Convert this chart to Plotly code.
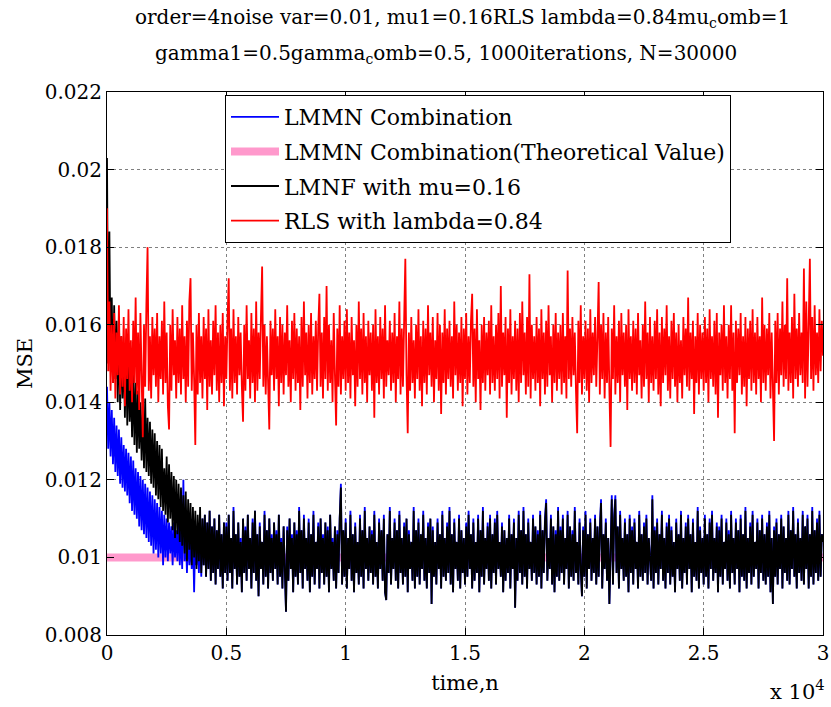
import numpy as np
import plotly.graph_objects as go

# time index (sampled every 50 iterations)
time_n = np.arange(0, 30001, 50)

rls = [
    0.0190, 0.0148, 0.0166, 0.0143, 0.0160, 0.0145, 0.0163, 0.0141, 0.0158, 0.0147, 0.0165, 0.0142, 0.0157, 0.0144, 0.0162, 0.0139, 0.0159, 0.0146, 0.0164, 0.0143,
    0.0156, 0.0140, 0.0161, 0.0145, 0.0167, 0.0142, 0.0158, 0.0138, 0.0163, 0.0146, 0.0131, 0.0160, 0.0144, 0.0165, 0.0180, 0.0143, 0.0157, 0.0141, 0.0162, 0.0147,
    0.0159, 0.0144, 0.0163, 0.0140, 0.0157, 0.0146, 0.0161, 0.0142, 0.0166, 0.0145, 0.0158, 0.0139, 0.0133, 0.0160, 0.0143, 0.0164, 0.0147, 0.0156, 0.0141, 0.0162,
    0.0145, 0.0159, 0.0142, 0.0165, 0.0146, 0.0157, 0.0140, 0.0161, 0.0144, 0.0166, 0.0172, 0.0143, 0.0158, 0.0146, 0.0129, 0.0160, 0.0142, 0.0163, 0.0145, 0.0157,
    0.0141, 0.0162, 0.0146, 0.0159, 0.0138, 0.0164, 0.0144, 0.0156, 0.0142, 0.0161, 0.0147, 0.0165, 0.0143, 0.0158, 0.0140, 0.0160, 0.0145, 0.0163, 0.0139, 0.0157,
    0.0146, 0.0161, 0.0172, 0.0143, 0.0159, 0.0141, 0.0164, 0.0145, 0.0157, 0.0142, 0.0162, 0.0147, 0.0158, 0.0144, 0.0135, 0.0160, 0.0143, 0.0165, 0.0146, 0.0156,
    0.0141, 0.0163, 0.0145, 0.0159, 0.0140, 0.0166, 0.0143, 0.0158, 0.0146, 0.0162, 0.0175, 0.0144, 0.0160, 0.0142, 0.0157, 0.0145, 0.0133, 0.0161, 0.0147, 0.0159,
    0.0143, 0.0164, 0.0146, 0.0157, 0.0139, 0.0162, 0.0145, 0.0160, 0.0142, 0.0158, 0.0147, 0.0165, 0.0144, 0.0156, 0.0140, 0.0161, 0.0146, 0.0163, 0.0143, 0.0159,
    0.0145, 0.0157, 0.0138, 0.0162, 0.0144, 0.0166, 0.0147, 0.0158, 0.0141, 0.0160, 0.0145, 0.0163, 0.0142, 0.0157, 0.0146, 0.0161, 0.0143, 0.0159, 0.0168, 0.0144,
    0.0158, 0.0141, 0.0162, 0.0146, 0.0170, 0.0143, 0.0160, 0.0145, 0.0156, 0.0140, 0.0163, 0.0147, 0.0134, 0.0159, 0.0144, 0.0165, 0.0142, 0.0157, 0.0146, 0.0161,
    0.0143, 0.0164, 0.0145, 0.0158, 0.0141, 0.0162, 0.0147, 0.0156, 0.0139, 0.0160, 0.0144, 0.0166, 0.0146, 0.0159, 0.0142, 0.0163, 0.0145, 0.0157, 0.0140, 0.0161,
    0.0147, 0.0158, 0.0143, 0.0160, 0.0136, 0.0164, 0.0145, 0.0157, 0.0142, 0.0162, 0.0146, 0.0159, 0.0141, 0.0165, 0.0144, 0.0156, 0.0147, 0.0161, 0.0143, 0.0158,
    0.0145, 0.0163, 0.0140, 0.0157, 0.0146, 0.0166, 0.0142, 0.0159, 0.0144, 0.0161, 0.0177, 0.0147, 0.0132, 0.0158, 0.0143, 0.0162, 0.0145, 0.0156, 0.0141, 0.0160,
    0.0146, 0.0164, 0.0143, 0.0157, 0.0139, 0.0161, 0.0145, 0.0159, 0.0142, 0.0165, 0.0147, 0.0158, 0.0144, 0.0162, 0.0140, 0.0156, 0.0146, 0.0163, 0.0143, 0.0160,
    0.0137, 0.0158, 0.0145, 0.0164, 0.0142, 0.0159, 0.0146, 0.0161, 0.0144, 0.0157, 0.0141, 0.0166, 0.0147, 0.0160, 0.0143, 0.0158, 0.0145, 0.0162, 0.0139, 0.0159,
    0.0146, 0.0163, 0.0142, 0.0157, 0.0145, 0.0161, 0.0168, 0.0144, 0.0159, 0.0140, 0.0164, 0.0146, 0.0156, 0.0138, 0.0160, 0.0145, 0.0162, 0.0143, 0.0158, 0.0147,
    0.0161, 0.0142, 0.0165, 0.0145, 0.0157, 0.0143, 0.0160, 0.0146, 0.0163, 0.0141, 0.0170, 0.0144, 0.0158, 0.0147, 0.0162, 0.0136, 0.0159, 0.0145, 0.0164, 0.0142,
    0.0157, 0.0146, 0.0161, 0.0143, 0.0159, 0.0140, 0.0163, 0.0145, 0.0166, 0.0147, 0.0158, 0.0142, 0.0162, 0.0144, 0.0173, 0.0141, 0.0160, 0.0146, 0.0157, 0.0143,
    0.0162, 0.0145, 0.0159, 0.0139, 0.0164, 0.0146, 0.0158, 0.0142, 0.0161, 0.0144, 0.0165, 0.0147, 0.0157, 0.0140, 0.0160, 0.0145, 0.0163, 0.0143, 0.0158, 0.0146,
    0.0160, 0.0142, 0.0163, 0.0145, 0.0157, 0.0141, 0.0174, 0.0146, 0.0159, 0.0144, 0.0162, 0.0147, 0.0158, 0.0143, 0.0132, 0.0161, 0.0145, 0.0165, 0.0142, 0.0157,
    0.0146, 0.0161, 0.0143, 0.0159, 0.0140, 0.0164, 0.0145, 0.0158, 0.0147, 0.0162, 0.0144, 0.0157, 0.0171, 0.0142, 0.0160, 0.0146, 0.0163, 0.0141, 0.0158, 0.0145,
    0.0162, 0.0143, 0.01285, 0.0159, 0.0146, 0.0165, 0.0142, 0.0157, 0.0145, 0.0161, 0.0140, 0.0163, 0.0147, 0.0158, 0.0144, 0.0160, 0.0138, 0.0164, 0.0146, 0.0157,
    0.0143, 0.0161, 0.0145, 0.0159, 0.0142, 0.0163, 0.0147, 0.0156, 0.0141, 0.0160, 0.0144, 0.0166, 0.0146, 0.0158, 0.0140, 0.0162, 0.0145, 0.0157, 0.0143, 0.0161,
    0.0146, 0.0164, 0.0142, 0.0158, 0.0139, 0.0162, 0.0145, 0.0159, 0.0147, 0.0165, 0.0143, 0.0157, 0.0141, 0.0161, 0.0146, 0.0163, 0.0144, 0.0158, 0.0140, 0.0160,
    0.0145, 0.0156, 0.0141, 0.0162, 0.0147, 0.0159, 0.0144, 0.0167, 0.0143, 0.0158, 0.0146, 0.0161, 0.0137, 0.0157, 0.0145, 0.0163, 0.0142, 0.0160, 0.0146, 0.0158,
    0.0143, 0.0162, 0.0145, 0.0159, 0.0140, 0.0164, 0.0146, 0.0157, 0.0144, 0.0161, 0.0142, 0.0163, 0.0136, 0.0158, 0.0147, 0.0160, 0.0143, 0.0165, 0.0145, 0.0157,
    0.0141, 0.0160, 0.0146, 0.0165, 0.0143, 0.0158, 0.0132, 0.0161, 0.0145, 0.0159, 0.0147, 0.0163, 0.0142, 0.0157, 0.0144, 0.0162, 0.0139, 0.0159, 0.0146, 0.0161,
    0.0143, 0.0164, 0.0145, 0.0158, 0.0142, 0.0162, 0.0146, 0.0157, 0.0140, 0.0167, 0.0145, 0.0160, 0.0143, 0.0159, 0.0147, 0.0163, 0.0141, 0.0158, 0.0144, 0.0130,
    0.0161, 0.0145, 0.0163, 0.0142, 0.0159, 0.0147, 0.0166, 0.0144, 0.0160, 0.0146, 0.0172, 0.0143, 0.0158, 0.0145, 0.0162, 0.0141, 0.0168, 0.0146, 0.0159, 0.0144,
    0.0163, 0.0147, 0.0158, 0.0145, 0.01745, 0.0141, 0.0166, 0.0144, 0.0160, 0.0177, 0.0146, 0.0162, 0.0143, 0.0165, 0.0147, 0.0158, 0.0145, 0.0164, 0.0148, 0.0161,
    0.0152,
]

lmnf = [
    0.0203, 0.0150, 0.0184, 0.0148, 0.0167, 0.0145, 0.0165, 0.0146, 0.0161, 0.0140, 0.0162, 0.0138, 0.0157, 0.0141, 0.0155, 0.0136, 0.0154, 0.0134, 0.0152, 0.0135,
    0.0146, 0.0131, 0.0148, 0.0129, 0.0145, 0.0127, 0.0143, 0.0128, 0.0140, 0.0125, 0.0139, 0.0123, 0.0141, 0.0122, 0.0136, 0.0121, 0.0135, 0.0119, 0.0133, 0.0118,
    0.0132, 0.0116, 0.0130, 0.0115, 0.0129, 0.0113, 0.0128, 0.0112, 0.0123, 0.0111, 0.0126, 0.0109, 0.0124, 0.0110, 0.0122, 0.0107, 0.0121, 0.0105, 0.0120, 0.0106,
    0.0119, 0.0104, 0.0118, 0.0103, 0.0116, 0.0101, 0.0117, 0.0099, 0.0115, 0.0102, 0.0114, 0.0098, 0.0113, 0.0100, 0.0112, 0.0097, 0.0111, 0.0099, 0.0113, 0.0096,
    0.0110, 0.0098, 0.0111, 0.0095, 0.0109, 0.0097, 0.0112, 0.0094, 0.0108, 0.0096, 0.0110, 0.0093, 0.0107, 0.0097, 0.0111, 0.0095, 0.0106, 0.0092, 0.0109, 0.0096,
    0.0108, 0.0094, 0.0111, 0.0096, 0.0105, 0.0092, 0.0112, 0.0097, 0.0106, 0.0093, 0.0109, 0.0095, 0.0104, 0.0091, 0.0110, 0.0096, 0.0107, 0.0094, 0.0111, 0.0097,
    0.0105, 0.0092, 0.0109, 0.0096, 0.0112, 0.0094, 0.0106, 0.0090, 0.0108, 0.0097, 0.0104, 0.0093, 0.0111, 0.0095, 0.0107, 0.0092, 0.0110, 0.0096, 0.0105, 0.0094,
    0.0109, 0.0097, 0.0106, 0.0093, 0.0111, 0.0095, 0.0104, 0.0092, 0.0108, 0.0096, 0.0086, 0.0107, 0.0094, 0.0110, 0.0097, 0.0105, 0.0091, 0.0109, 0.0095, 0.0106,
    0.0093, 0.0112, 0.0096, 0.0107, 0.0092, 0.0110, 0.0097, 0.0105, 0.0094, 0.0109, 0.0091, 0.0106, 0.0095, 0.0111, 0.0093, 0.0104, 0.0097, 0.0108, 0.0092, 0.0110,
    0.0096, 0.0105, 0.0093, 0.0109, 0.0095, 0.0107, 0.0091, 0.0111, 0.0097, 0.0104, 0.0094, 0.0108, 0.0092, 0.0106, 0.0096, 0.0110, 0.0118, 0.0093, 0.0107, 0.0095,
    0.0109, 0.0092, 0.0105, 0.0097, 0.0111, 0.0094, 0.0106, 0.0091, 0.0108, 0.0096, 0.0104, 0.0093, 0.0110, 0.0095, 0.0107, 0.0092, 0.0112, 0.0097, 0.0105, 0.0094,
    0.0108, 0.0096, 0.0106, 0.0093, 0.0111, 0.0095, 0.0104, 0.0092, 0.0109, 0.0097, 0.0107, 0.0094, 0.0110, 0.0091, 0.0089, 0.0106, 0.0096, 0.0112, 0.0093, 0.0105,
    0.0097, 0.0109, 0.0094, 0.0107, 0.0092, 0.0111, 0.0096, 0.0105, 0.0093, 0.0108, 0.0095, 0.0110, 0.0091, 0.0106, 0.0097, 0.0104, 0.0094, 0.0112, 0.0092, 0.0107,
    0.0095, 0.0109, 0.0093, 0.0106, 0.0097, 0.0111, 0.0094, 0.0105, 0.0092, 0.0108, 0.0096, 0.0110, 0.0088, 0.0107, 0.0095, 0.0104, 0.0093, 0.0109, 0.0097, 0.0106,
    0.0092, 0.0111, 0.0095, 0.0105, 0.0094, 0.0108, 0.0096, 0.0112, 0.0093, 0.0106, 0.0091, 0.0109, 0.0097, 0.0104, 0.0094, 0.0110, 0.0092, 0.0107, 0.0096, 0.0105,
    0.0093, 0.0108, 0.0095, 0.0111, 0.0097, 0.0106, 0.0092, 0.0109, 0.0094, 0.0104, 0.0096, 0.0110, 0.0091, 0.0107, 0.0095, 0.0112, 0.0093, 0.0105, 0.0097, 0.0108,
    0.0094, 0.0110, 0.0092, 0.0106, 0.0096, 0.0109, 0.0093, 0.0111, 0.0097, 0.0104, 0.0095, 0.0108, 0.0091, 0.0107, 0.0094, 0.0105, 0.0096, 0.0110, 0.0092, 0.0106,
    0.0097, 0.0109, 0.0087, 0.0105, 0.0094, 0.0111, 0.0096, 0.0107, 0.0093, 0.0112, 0.0095, 0.0106, 0.0092, 0.0109, 0.0097, 0.0104, 0.0094, 0.0110, 0.0096, 0.0108,
    0.0093, 0.0106, 0.0095, 0.0111, 0.0092, 0.0107, 0.0096, 0.0109, 0.0114, 0.0094, 0.0105, 0.0097, 0.0110, 0.0093, 0.0108, 0.0091, 0.0106, 0.0095, 0.0112, 0.0094,
    0.0107, 0.0096, 0.0110, 0.0093, 0.0105, 0.0097, 0.0111, 0.0092, 0.0108, 0.0095, 0.0106, 0.0094, 0.0112, 0.0096, 0.0104, 0.0093, 0.0109, 0.0097, 0.0090, 0.0107,
    0.0095, 0.0111, 0.0092, 0.0106, 0.0097, 0.0109, 0.0094, 0.0105, 0.0096, 0.0110, 0.0093, 0.0108, 0.0095, 0.0107, 0.0114, 0.0092, 0.0106, 0.0097, 0.0109, 0.0094,
    0.0105, 0.0088, 0.0107, 0.0115, 0.0093, 0.0110, 0.0115, 0.0096, 0.0108, 0.0092, 0.0111, 0.0097, 0.0105, 0.0094, 0.0109, 0.0095, 0.0106, 0.0091, 0.0110, 0.0096,
    0.0107, 0.0093, 0.0109, 0.0097, 0.0104, 0.0092, 0.0111, 0.0095, 0.0106, 0.0094, 0.0108, 0.0096, 0.0110, 0.0093, 0.0105, 0.0097, 0.0094, 0.0115, 0.0092, 0.0107,
    0.0096, 0.0109, 0.0093, 0.0106, 0.0097, 0.0111, 0.0094, 0.0105, 0.0092, 0.0108, 0.0096, 0.0110, 0.0093, 0.0107, 0.0095, 0.0104, 0.0091, 0.0109, 0.0097, 0.0106,
    0.0094, 0.0111, 0.0092, 0.0105, 0.0096, 0.0108, 0.0093, 0.0110, 0.0097, 0.0106, 0.0091, 0.0109, 0.0095, 0.0104, 0.0094, 0.0112, 0.0092, 0.0107, 0.0096, 0.0105,
    0.0093, 0.0110, 0.0095, 0.0106, 0.0092, 0.0109, 0.0097, 0.0111, 0.0094, 0.0105, 0.0096, 0.0108, 0.0091, 0.0107, 0.0095, 0.0110, 0.0093, 0.0104, 0.0097, 0.0109,
    0.0094, 0.0106, 0.0092, 0.0111, 0.0096, 0.0105, 0.0093, 0.0109, 0.0097, 0.0107, 0.0091, 0.0110, 0.0095, 0.0106, 0.0094, 0.0112, 0.0092, 0.0105, 0.0096, 0.0108,
    0.0093, 0.0111, 0.0095, 0.0104, 0.0097, 0.0109, 0.0092, 0.0107, 0.0096, 0.0110, 0.0094, 0.0106, 0.0093, 0.0108, 0.0095, 0.0111, 0.0091, 0.0105, 0.0088, 0.0107,
    0.0095, 0.0109, 0.0093, 0.0106, 0.0097, 0.0110, 0.0092, 0.0108, 0.0096, 0.0105, 0.0094, 0.0111, 0.0093, 0.0107, 0.0097, 0.0112, 0.0095, 0.0106, 0.0092, 0.0109,
    0.0096, 0.0105, 0.0094, 0.0111, 0.0093, 0.0108, 0.0097, 0.0110, 0.0092, 0.0106, 0.0095, 0.0112, 0.0093, 0.0107, 0.0096, 0.0109, 0.0094, 0.0111, 0.0095, 0.0106,
    0.0104,
]

lmmn = [
    0.0144, 0.0128, 0.0140, 0.0126, 0.0138, 0.0124, 0.0136, 0.0122, 0.0134, 0.0121, 0.0133, 0.0119, 0.0131, 0.0118, 0.0129, 0.0117, 0.0128, 0.0116, 0.0127, 0.0114,
    0.0126, 0.0112, 0.0125, 0.0111, 0.0123, 0.0110, 0.0122, 0.0108, 0.0121, 0.0107, 0.0120, 0.0106, 0.0119, 0.0105, 0.0118, 0.0104, 0.0117, 0.0103, 0.0116, 0.0101,
    0.0115, 0.0102, 0.0114, 0.0100, 0.0113, 0.0101, 0.0112, 0.0098, 0.0111, 0.0100, 0.0110, 0.0099, 0.0109, 0.0101, 0.0108, 0.0098, 0.0109, 0.0100, 0.0107, 0.0099,
    0.0110, 0.0098, 0.0107, 0.0097, 0.0120, 0.0099, 0.0106, 0.0096, 0.0108, 0.0098, 0.0105, 0.0097, 0.0107, 0.0091, 0.0106, 0.0098, 0.0105, 0.0096, 0.0107, 0.0095,
    0.0110, 0.0098, 0.0111, 0.0095, 0.0109, 0.0097, 0.0112, 0.0094, 0.0108, 0.0096, 0.0110, 0.0093, 0.0107, 0.0097, 0.0111, 0.0095, 0.0106, 0.0092, 0.0109, 0.0096,
    0.0109, 0.0094, 0.0111, 0.0096, 0.0105, 0.0092, 0.0113, 0.0097, 0.0106, 0.0093, 0.0109, 0.0095, 0.0105, 0.0091, 0.0110, 0.0096, 0.0108, 0.0094, 0.0111, 0.0097,
    0.0105, 0.0092, 0.0110, 0.0096, 0.0112, 0.0094, 0.0106, 0.0090, 0.0109, 0.0097, 0.0104, 0.0093, 0.0112, 0.0095, 0.0107, 0.0092, 0.0110, 0.0096, 0.0106, 0.0094,
    0.0109, 0.0097, 0.0107, 0.0093, 0.0111, 0.0095, 0.0105, 0.0092, 0.0108, 0.0096, 0.0086, 0.0108, 0.0094, 0.0110, 0.0097, 0.0106, 0.0091, 0.0109, 0.0095, 0.0107,
    0.0093, 0.0113, 0.0096, 0.0107, 0.0092, 0.0111, 0.0097, 0.0105, 0.0094, 0.0110, 0.0091, 0.0106, 0.0095, 0.0112, 0.0093, 0.0104, 0.0097, 0.0109, 0.0092, 0.0110,
    0.0096, 0.0106, 0.0093, 0.0109, 0.0095, 0.0108, 0.0091, 0.0111, 0.0097, 0.0105, 0.0094, 0.0108, 0.0092, 0.0107, 0.0096, 0.0110, 0.0119, 0.0093, 0.0107, 0.0095,
    0.0110, 0.0092, 0.0105, 0.0097, 0.0112, 0.0094, 0.0106, 0.0091, 0.0109, 0.0096, 0.0104, 0.0093, 0.0111, 0.0095, 0.0107, 0.0092, 0.0113, 0.0097, 0.0105, 0.0094,
    0.0108, 0.0096, 0.0107, 0.0093, 0.0112, 0.0095, 0.0104, 0.0092, 0.0110, 0.0097, 0.0107, 0.0094, 0.0111, 0.0091, 0.0089, 0.0106, 0.0096, 0.0113, 0.0093, 0.0105,
    0.0097, 0.0110, 0.0094, 0.0107, 0.0092, 0.0112, 0.0096, 0.0105, 0.0093, 0.0109, 0.0095, 0.0110, 0.0091, 0.0107, 0.0097, 0.0104, 0.0094, 0.0113, 0.0092, 0.0107,
    0.0095, 0.0110, 0.0093, 0.0106, 0.0097, 0.0112, 0.0094, 0.0105, 0.0092, 0.0109, 0.0096, 0.0110, 0.0088, 0.0108, 0.0095, 0.0104, 0.0093, 0.0110, 0.0097, 0.0106,
    0.0092, 0.0112, 0.0095, 0.0105, 0.0094, 0.0109, 0.0096, 0.0113, 0.0093, 0.0106, 0.0091, 0.0110, 0.0097, 0.0104, 0.0094, 0.0111, 0.0092, 0.0107, 0.0096, 0.0105,
    0.0093, 0.0109, 0.0095, 0.0112, 0.0097, 0.0106, 0.0092, 0.0110, 0.0094, 0.0104, 0.0096, 0.0111, 0.0091, 0.0107, 0.0095, 0.0113, 0.0093, 0.0105, 0.0097, 0.0109,
    0.0094, 0.0111, 0.0092, 0.0106, 0.0096, 0.0110, 0.0093, 0.0112, 0.0097, 0.0104, 0.0095, 0.0109, 0.0091, 0.0107, 0.0094, 0.0105, 0.0096, 0.0111, 0.0092, 0.0106,
    0.0097, 0.0110, 0.0087, 0.0105, 0.0094, 0.0112, 0.0096, 0.0107, 0.0093, 0.0113, 0.0095, 0.0106, 0.0092, 0.0110, 0.0097, 0.0104, 0.0094, 0.0111, 0.0096, 0.0108,
    0.0093, 0.0107, 0.0095, 0.0112, 0.0092, 0.0107, 0.0096, 0.0110, 0.0115, 0.0094, 0.0105, 0.0097, 0.0111, 0.0093, 0.0108, 0.0091, 0.0107, 0.0095, 0.0113, 0.0094,
    0.0108, 0.0096, 0.0111, 0.0093, 0.0105, 0.0097, 0.0112, 0.0092, 0.0108, 0.0095, 0.0107, 0.0094, 0.0113, 0.0096, 0.0104, 0.0093, 0.0110, 0.0097, 0.0090, 0.0108,
    0.0095, 0.0112, 0.0092, 0.0106, 0.0097, 0.0110, 0.0094, 0.0105, 0.0096, 0.0111, 0.0093, 0.0108, 0.0095, 0.0108, 0.0115, 0.0092, 0.0106, 0.0097, 0.0110, 0.0094,
    0.0105, 0.0088, 0.0108, 0.0116, 0.0093, 0.0111, 0.0116, 0.0096, 0.0108, 0.0092, 0.0112, 0.0097, 0.0105, 0.0094, 0.0110, 0.0095, 0.0106, 0.0091, 0.0111, 0.0096,
    0.0108, 0.0093, 0.0110, 0.0097, 0.0104, 0.0092, 0.0112, 0.0095, 0.0106, 0.0094, 0.0109, 0.0096, 0.0111, 0.0093, 0.0105, 0.0097, 0.0094, 0.0116, 0.0092, 0.0108,
    0.0096, 0.0110, 0.0093, 0.0106, 0.0097, 0.0112, 0.0094, 0.0105, 0.0092, 0.0109, 0.0096, 0.0111, 0.0093, 0.0108, 0.0095, 0.0104, 0.0091, 0.0110, 0.0097, 0.0106,
    0.0094, 0.0112, 0.0092, 0.0105, 0.0096, 0.0109, 0.0093, 0.0111, 0.0097, 0.0106, 0.0091, 0.0110, 0.0095, 0.0104, 0.0094, 0.0113, 0.0092, 0.0108, 0.0096, 0.0105,
    0.0093, 0.0111, 0.0095, 0.0106, 0.0092, 0.0110, 0.0097, 0.0112, 0.0094, 0.0105, 0.0096, 0.0109, 0.0091, 0.0108, 0.0095, 0.0111, 0.0093, 0.0104, 0.0097, 0.0110,
    0.0094, 0.0107, 0.0092, 0.0112, 0.0096, 0.0105, 0.0093, 0.0110, 0.0097, 0.0107, 0.0091, 0.0111, 0.0095, 0.0106, 0.0094, 0.0113, 0.0092, 0.0105, 0.0096, 0.0109,
    0.0093, 0.0112, 0.0095, 0.0104, 0.0097, 0.0110, 0.0092, 0.0107, 0.0096, 0.0111, 0.0094, 0.0106, 0.0093, 0.0109, 0.0095, 0.0112, 0.0091, 0.0105, 0.0088, 0.0108,
    0.0095, 0.0110, 0.0093, 0.0106, 0.0097, 0.0111, 0.0092, 0.0108, 0.0096, 0.0105, 0.0094, 0.0112, 0.0093, 0.0107, 0.0097, 0.0113, 0.0095, 0.0106, 0.0092, 0.0110,
    0.0096, 0.0105, 0.0094, 0.0112, 0.0093, 0.0108, 0.0097, 0.0111, 0.0092, 0.0106, 0.0095, 0.0113, 0.0093, 0.0107, 0.0096, 0.0110, 0.0094, 0.0112, 0.0095, 0.0106,
    0.0105,
]

theory_x = [0, 30000]
theory_y = [0.01, 0.01]

x_tickvals = [0, 5000, 10000, 15000, 20000, 25000, 30000]
x_ticktext = ["0", "0.5", "1", "1.5", "2", "2.5", "3"]
y_tickvals = [0.008, 0.010, 0.012, 0.014, 0.016, 0.018, 0.020, 0.022]
y_ticktext = ["0.008", "0.01", "0.012", "0.014", "0.016", "0.018", "0.02", "0.022"]

FONT = "DejaVu Serif"
LW = 1.8

fig = go.Figure()
fig.add_trace(go.Scatter(x=theory_x, y=theory_y, mode="lines",
                         name="LMMN Combination(Theoretical Value)", legendgroup="b",
                         line=dict(color="#ff99cc", width=8), legendrank=2))
fig.add_trace(go.Scatter(x=time_n, y=lmmn, mode="lines", name="LMMN Combination",
                         legendgroup="a",
                         line=dict(color="#0000ff", width=LW), legendrank=1))
fig.add_trace(go.Scatter(x=time_n, y=lmnf, mode="lines", name="LMNF with mu=0.16",
                         legendgroup="c",
                         line=dict(color="#000000", width=LW), legendrank=3))
fig.add_trace(go.Scatter(x=time_n, y=rls, mode="lines", name="RLS with lambda=0.84",
                         legendgroup="d",
                         line=dict(color="#ff0000", width=LW), legendrank=4))

axis_common = dict(
    showline=True, linecolor="black", linewidth=1, mirror="ticks",
    ticks="inside", ticklen=7, tickcolor="black",
    showgrid=True, gridcolor="#808080", griddash="dot", gridwidth=1,
    zeroline=False, tickfont=dict(family=FONT, size=20, color="black"),
)

fig.update_layout(
    template="none",
    width=831, height=707,
    margin=dict(l=107, r=8, t=92, b=72),
    paper_bgcolor="white", plot_bgcolor="white",
    font=dict(family=FONT, size=21, color="black"),
    showlegend=True,
    legend=dict(x=(225 - 107) / 716, y=(635 - 95) / 543, xanchor="left", yanchor="top",
                bgcolor="white", bordercolor="black", borderwidth=1,
                font=dict(family=FONT, size=22, color="black"),
                tracegroupgap=3, itemwidth=48),
    xaxis=dict(range=[0, 30000], tickvals=x_tickvals, ticktext=x_ticktext,
               title=dict(text="time,n", font=dict(family=FONT, size=21), standoff=11),
               **axis_common),
    yaxis=dict(range=[0.008, 0.022], tickvals=y_tickvals, ticktext=y_ticktext,
               title=dict(text="MSE", font=dict(family=FONT, size=21), standoff=6),
               **axis_common),
    annotations=[
        dict(text="order=4noise var=0.01, mu1=0.16RLS lambda=0.84mu<sub>c</sub>omb=1",
             xref="paper", yref="paper", x=(462 - 107) / 716, y=(635 - 18) / 543,
             xanchor="center", yanchor="middle", showarrow=False,
             font=dict(family=FONT, size=20, color="black")),
        dict(text="gamma1=0.5gamma<sub>c</sub>omb=0.5, 1000iterations, N=30000",
             xref="paper", yref="paper", x=(446 - 107) / 716, y=(635 - 54) / 543,
             xanchor="center", yanchor="middle", showarrow=False,
             font=dict(family=FONT, size=20, color="black")),
        dict(text="x 10<sup>4</sup>", xref="paper", yref="paper",
             x=(768 - 107) / 716, y=(635 - 690) / 543, xanchor="left", yanchor="middle",
             showarrow=False, font=dict(family=FONT, size=21, color="black")),
    ],
)

fig.write_html("out.html")
